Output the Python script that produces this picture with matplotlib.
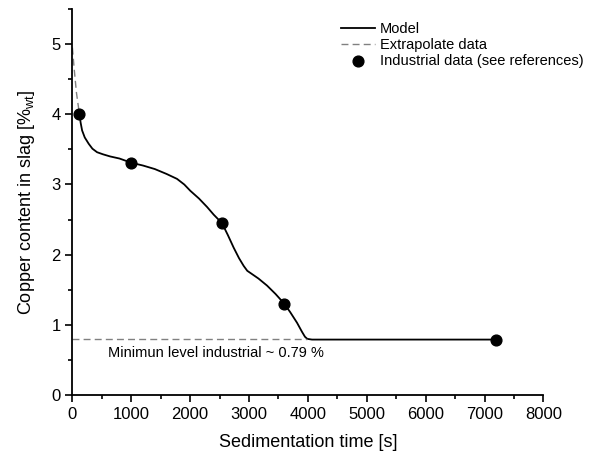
import numpy as np
import matplotlib.pyplot as plt
from matplotlib.ticker import MultipleLocator

plt.rcParams['font.family'] = ['Liberation Sans', 'DejaVu Sans']

# model curve
model_t = [120, 140, 165, 210, 277, 340, 419, 520, 640, 800, 1000, 1200, 1400, 1600,
           1777, 1900, 2003, 2150, 2287, 2400, 2540, 2640, 2739, 2830, 2909, 2970,
           3022, 3160, 3305, 3450, 3600, 3700, 3815, 3900, 3950, 3990, 4070, 7200]
model_cu = [4.0, 3.88, 3.77, 3.67, 3.58, 3.51, 3.46, 3.43, 3.40, 3.37, 3.31, 3.27, 3.22, 3.15,
            3.08, 3.0, 2.91, 2.8, 2.68, 2.57, 2.45, 2.28, 2.1, 1.95, 1.84, 1.77,
            1.74, 1.66, 1.56, 1.44, 1.3, 1.18, 1.03, 0.9, 0.83, 0.8, 0.79, 0.79]

# extrapolated start
extra_t = [0, 30, 70, 120]
extra_cu = [4.95, 4.65, 4.3, 4.0]

# industrial data
ind_t = [120, 1000, 2540, 3600, 7200]
ind_cu = [4.0, 3.3, 2.45, 1.3, 0.79]

min_level = 0.8
min_end = 3990

fig = plt.figure(figsize=(5.91, 4.53), dpi=100)
ax = fig.add_axes([0.1225, 0.128, 0.797, 0.852])

ax.plot(model_t, model_cu, color='black', lw=1.3, label='Model')
ax.plot(extra_t, extra_cu, color='gray', lw=1.0, ls=(0, (5, 3)), label='Extrapolate data')
ax.plot([0, min_end], [min_level, min_level], color='gray', lw=1.0, ls=(0, (5, 3)))
ax.scatter(ind_t, ind_cu, color='black', s=60, zorder=5, label='Industrial data (see references)')

ax.text(610, 0.6, 'Minimun level industrial ~ 0.79 %', fontsize=10.5, va='center')

ax.set_xlim(0, 8000)
ax.set_ylim(0, 5.5)
ax.xaxis.set_major_locator(MultipleLocator(1000))
ax.xaxis.set_minor_locator(MultipleLocator(500))
ax.yaxis.set_major_locator(MultipleLocator(1))
ax.yaxis.set_minor_locator(MultipleLocator(0.5))
ax.tick_params(which='major', direction='out', length=5, width=1.2, labelsize=12)
ax.tick_params(which='minor', direction='out', length=3, width=1.2)
for s in ['top', 'right']:
    ax.spines[s].set_visible(False)
for s in ['left', 'bottom']:
    ax.spines[s].set_linewidth(1.3)

ax.set_xlabel('Sedimentation time [s]', fontsize=13, labelpad=9)
ax.set_ylabel('Copper content in slag [%$_{\\mathregular{wt}}$]', fontsize=13, labelpad=10)

ax.legend(loc='upper left', bbox_to_anchor=(0.577, 0.952), bbox_transform=fig.transFigure,
          frameon=False, fontsize=10.5, borderpad=0, borderaxespad=0,
          handlelength=2.3, handletextpad=0.35, labelspacing=0.15)

fig.savefig('out.png', dpi=100)
